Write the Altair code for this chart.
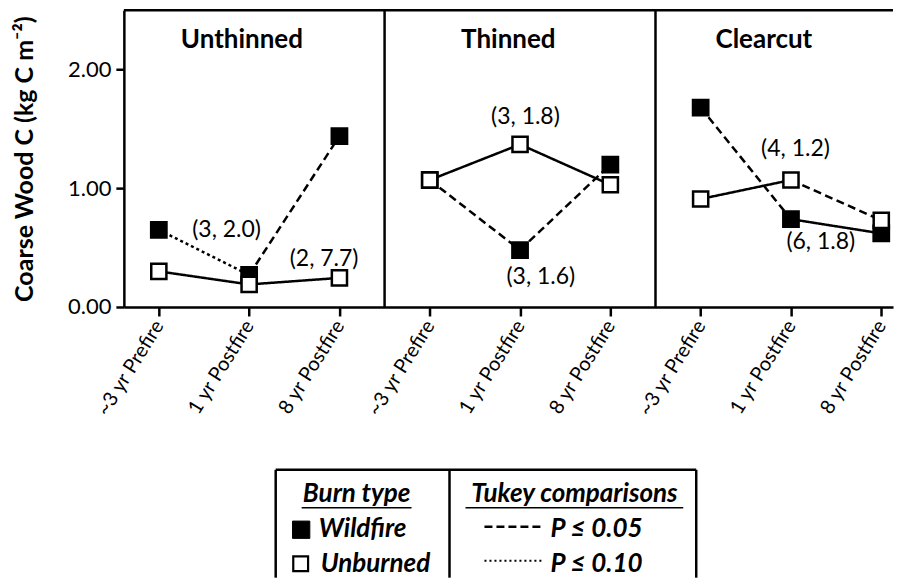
import json
import altair as alt
import pandas as pd

# ---------------- data ----------------
treatments = ["Unthinned", "Thinned", "Clearcut"]
periods = ["~3 yr Prefire", "1 yr Postfire", "8 yr Postfire"]
wildfire = [0.65, 0.27, 1.44, 1.07, 0.48, 1.20, 1.68, 0.74, 0.62]
unburned = [0.30, 0.19, 0.245, 1.07, 1.37, 1.03, 0.91, 1.07, 0.73]
# style of each link (prefire->1yr, 1yr->8yr) for each treatment
wildfire_links = ["dotted", "dashed", "dashed", "dashed", "dashed", "solid"]
unburned_links = ["solid", "solid", "solid", "solid", "solid", "dashed"]
annot_text = ["(3, 2.0)", "(2, 7.7)", "(3, 1.8)", "(3, 1.6)", "(4, 1.2)", "(6, 1.8)"]
annot_x = [0.75, 1.83, 4.06, 4.23, 7.05, 7.33]
annot_y = [0.65, 0.405, 1.60, 0.25, 1.33, 0.55]
title_x = [0.92, 3.87, 6.70]
title_y = [2.25, 2.25, 2.25]
panel_bounds = [2.5, 5.5]

W, H = 770, 297
FONT = "Lato"

points = pd.DataFrame({
    "idx": list(range(9)) * 2,
    "value": wildfire + unburned,
    "series": ["Wildfire"] * 9 + ["Unburned"] * 9,
})
seg_rows = []
for name, vals, links in [("Wildfire", wildfire, wildfire_links), ("Unburned", unburned, unburned_links)]:
    k = 0
    for t in range(3):
        for j in range(2):
            i = 3 * t + j
            seg_rows.append({"series": name, "x": i, "x2": i + 1, "y": vals[i], "y2": vals[i + 1], "style": links[k]})
            k += 1
segs = pd.DataFrame(seg_rows)
annots = pd.DataFrame({"text": annot_text, "x": annot_x, "y": annot_y})
titles = pd.DataFrame({"text": treatments, "x": title_x, "y": title_y})
bounds = pd.DataFrame({"b": panel_bounds})
one = pd.DataFrame({"a": [0]})

xscale = alt.Scale(domain=[-0.387, 8.13], nice=False, zero=False)
yscale = alt.Scale(domain=[0, 2.5], nice=False)
label_expr = json.dumps(periods) + "[datum.value % 3]"

xaxis = alt.Axis(values=list(range(9)), labelExpr=label_expr, title=None, grid=False,
                 labelAngle=-58, labelAlign="right", labelBaseline="middle", labelPadding=6,
                 labelFont=FONT, labelFontSize=20, labelColor="black",
                 domainColor="black", domainWidth=2.5, tickColor="black", tickWidth=2.5, tickSize=9)
yaxis = alt.Axis(values=[0, 1, 2], format=".2f", title="Coarse Wood C  (kg C m\u207b\u00b2)", grid=False,
                 labelFont=FONT, labelFontSize=22, labelColor="black", labelPadding=5,
                 titleFont=FONT, titleFontSize=25, titleFontWeight="bold", titleColor="black", titlePadding=30,
                 domainColor="black", domainWidth=2.5, tickColor="black", tickWidth=2.5, tickSize=8)

seg_layer = alt.Chart(segs).mark_rule(strokeWidth=2.5, color="black").encode(
    x=alt.X("x:Q", scale=xscale, axis=xaxis),
    x2="x2:Q",
    y=alt.Y("y:Q", scale=yscale, axis=yaxis),
    y2="y2:Q",
    strokeDash=alt.StrokeDash("style:N", legend=None,
                              scale=alt.Scale(domain=["solid", "dashed", "dotted"],
                                              range=[[1, 0], [8, 4.5], [3, 3]])),
)

wild_pts = alt.Chart(points[points.series == "Wildfire"]).mark_square(
    size=250, fill="black", stroke="black", strokeWidth=2, opacity=1).encode(
    x=alt.X("idx:Q", scale=xscale), y=alt.Y("value:Q", scale=yscale))
unb_pts = alt.Chart(points[points.series == "Unburned"]).mark_square(
    size=230, fill="white", stroke="black", strokeWidth=2.5, opacity=1).encode(
    x=alt.X("idx:Q", scale=xscale), y=alt.Y("value:Q", scale=yscale))

dividers = alt.Chart(bounds).mark_rule(strokeWidth=2.5, color="black").encode(
    x=alt.X("b:Q", scale=xscale))
top_rule = alt.Chart(one).mark_rule(strokeWidth=2.5, color="black").encode(
    x=alt.value(0), x2=alt.value(W), y=alt.value(0))

annot_layer = alt.Chart(annots).mark_text(font=FONT, fontSize=23, color="black").encode(
    x=alt.X("x:Q", scale=xscale), y=alt.Y("y:Q", scale=yscale), text="text:N")
title_layer = alt.Chart(titles).mark_text(font=FONT, fontSize=26, fontWeight="bold", color="black").encode(
    x=alt.X("x:Q", scale=xscale), y=alt.Y("y:Q", scale=yscale), text="text:N")

# ---------------- legend box (drawn below the plot) ----------------
LT, LB = 460, 568
box = [
    alt.Chart(one).mark_rule(strokeWidth=2.5, color="black").encode(x=alt.value(152), x2=alt.value(573), y=alt.value(LT)),
    alt.Chart(one).mark_rule(strokeWidth=2.5, color="black").encode(x=alt.value(152), y=alt.value(LT), y2=alt.value(LB)),
    alt.Chart(one).mark_rule(strokeWidth=2.5, color="black").encode(x=alt.value(326), y=alt.value(LT), y2=alt.value(LB)),
    alt.Chart(one).mark_rule(strokeWidth=2.5, color="black").encode(x=alt.value(573), y=alt.value(LT), y2=alt.value(LB)),
]

def ltext(txt, x, y, align="left"):
    return alt.Chart(one).mark_text(text=txt, font=FONT, fontSize=26, fontWeight="bold", fontStyle="italic",
                                    align=align, baseline="middle", color="black").encode(
        x=alt.value(x), y=alt.value(y))

leg = [
    ltext("Burn type", 233, 484, "center"),
    alt.Chart(one).mark_rule(strokeWidth=1.5, color="black").encode(x=alt.value(178), x2=alt.value(288), y=alt.value(498)),
    ltext("Tukey comparisons", 451, 484, "center"),
    alt.Chart(one).mark_rule(strokeWidth=1.5, color="black").encode(x=alt.value(342), x2=alt.value(560), y=alt.value(498)),
    alt.Chart(one).mark_square(size=300, fill="black", stroke="black", strokeWidth=1, opacity=1).encode(
        x=alt.value(177.5), y=alt.value(520)),
    ltext("Wildfire", 195, 519),
    alt.Chart(one).mark_square(size=220, fill="white", stroke="black", strokeWidth=2.2, opacity=1).encode(
        x=alt.value(177), y=alt.value(554)),
    ltext("Unburned", 197, 554),
    alt.Chart(one).mark_rule(strokeWidth=2.5, color="black", strokeDash=[8, 4]).encode(
        x=alt.value(361), x2=alt.value(418), y=alt.value(517)),
    ltext("P \u2264 0.05", 427, 519),
    alt.Chart(one).mark_rule(strokeWidth=2, color="black", strokeDash=[2, 3]).encode(
        x=alt.value(361), x2=alt.value(420), y=alt.value(551)),
    ltext("P \u2264 0.10", 427, 554),
]

chart = alt.layer(
    seg_layer, dividers, top_rule, wild_pts, unb_pts, annot_layer, title_layer, *box, *leg
).properties(
    width=W, height=H, padding={"left": 4, "top": 0, "right": 0, "bottom": 0}
).configure_view(stroke="transparent")

chart.save("out.html", embed_options={"renderer": "svg", "actions": False})
